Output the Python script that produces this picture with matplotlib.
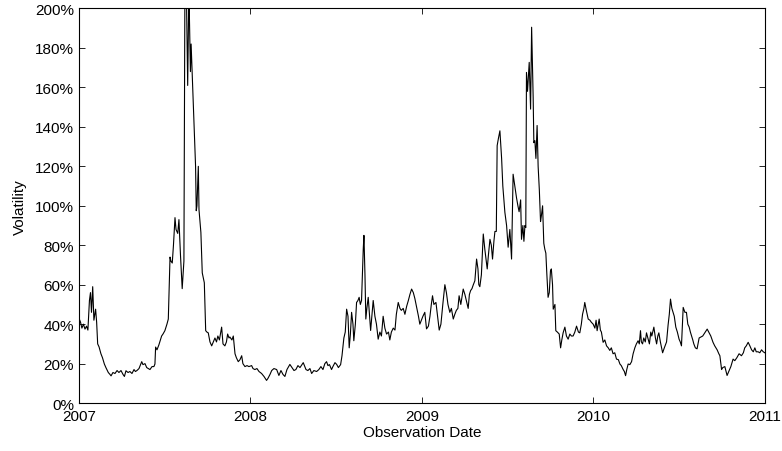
import numpy as np
import matplotlib
matplotlib.use("Agg")
import matplotlib.pyplot as plt
from matplotlib.ticker import FuncFormatter

# observation times, in years after 1 Jan 2007
years_since_2007 = [
    0.000, 0.009, 0.017, 0.026, 0.035, 0.044, 0.052, 0.061, 0.067, 0.073,
    0.080, 0.087, 0.097, 0.103, 0.109, 0.117, 0.128, 0.137, 0.148, 0.157,
    0.171, 0.181, 0.187, 0.198, 0.210, 0.222, 0.233, 0.245, 0.257, 0.265,
    0.274, 0.286, 0.297, 0.309, 0.321, 0.329, 0.338, 0.350, 0.366, 0.373,
    0.385, 0.395, 0.405, 0.414, 0.426, 0.437, 0.443, 0.447, 0.455, 0.466,
    0.475, 0.482, 0.490, 0.501, 0.513, 0.521, 0.531, 0.536, 0.544, 0.551,
    0.560, 0.566, 0.576, 0.583, 0.592, 0.602, 0.612, 0.618, 0.627, 0.634,
    0.641, 0.650, 0.654, 0.666, 0.680, 0.684, 0.688, 0.696, 0.700, 0.711,
    0.719, 0.731, 0.739, 0.746, 0.754, 0.764, 0.774, 0.781, 0.793, 0.802,
    0.810, 0.819, 0.832, 0.840, 0.851, 0.860, 0.867, 0.875, 0.880, 0.892,
    0.900, 0.910, 0.918, 0.929, 0.939, 0.949, 0.956, 0.968, 0.980, 0.991,
    1.007, 1.015, 1.026, 1.038, 1.050, 1.065, 1.079, 1.094, 1.102, 1.114,
    1.124, 1.137, 1.153, 1.166, 1.178, 1.190, 1.201, 1.213, 1.230, 1.242,
    1.254, 1.265, 1.277, 1.289, 1.308, 1.324, 1.335, 1.347, 1.357, 1.370,
    1.386, 1.399, 1.411, 1.423, 1.434, 1.444, 1.452, 1.461, 1.473, 1.481,
    1.493, 1.503, 1.513, 1.526, 1.534, 1.545, 1.553, 1.561, 1.569, 1.576,
    1.583, 1.590, 1.598, 1.603, 1.612, 1.619, 1.627, 1.634, 1.641, 1.648,
    1.658, 1.662, 1.668, 1.673, 1.679, 1.687, 1.694, 1.701, 1.708, 1.716,
    1.726, 1.735, 1.745, 1.755, 1.764, 1.774, 1.784, 1.794, 1.805, 1.813,
    1.822, 1.833, 1.843, 1.851, 1.862, 1.872, 1.880, 1.891, 1.901, 1.911,
    1.921, 1.930, 1.940, 1.950, 1.959, 1.971, 1.980, 1.988, 1.997, 2.006,
    2.017, 2.027, 2.038, 2.047, 2.055, 2.062, 2.070, 2.082, 2.090, 2.101,
    2.111, 2.122, 2.134, 2.143, 2.152, 2.163, 2.172, 2.183, 2.192, 2.201,
    2.210, 2.217, 2.227, 2.241, 2.251, 2.259, 2.270, 2.277, 2.284, 2.292,
    2.300, 2.309, 2.319, 2.327, 2.332, 2.338, 2.347, 2.358, 2.367, 2.381,
    2.388, 2.397, 2.405, 2.412, 2.420, 2.426, 2.434, 2.439, 2.446, 2.455,
    2.465, 2.472, 2.484, 2.494, 2.503, 2.513, 2.523, 2.532, 2.542, 2.552,
    2.560, 2.567, 2.576, 2.581, 2.589, 2.595, 2.601, 2.606, 2.610, 2.616,
    2.621, 2.626, 2.634, 2.640, 2.649, 2.653, 2.659, 2.665, 2.672, 2.678,
    2.685, 2.692, 2.697, 2.704, 2.711, 2.717, 2.723, 2.729, 2.736, 2.743,
    2.750, 2.755, 2.762, 2.766, 2.776, 2.781, 2.790, 2.801, 2.809, 2.816,
    2.824, 2.834, 2.843, 2.853, 2.863, 2.872, 2.882, 2.892, 2.902, 2.913,
    2.921, 2.930, 2.937, 2.945, 2.950, 2.959, 2.970, 2.980, 2.988, 2.999,
    3.009, 3.016, 3.022, 3.029, 3.034, 3.041, 3.047, 3.057, 3.067, 3.077,
    3.087, 3.096, 3.105, 3.115, 3.125, 3.135, 3.146, 3.155, 3.163, 3.174,
    3.181, 3.188, 3.195, 3.203, 3.213, 3.223, 3.232, 3.242, 3.251, 3.261,
    3.268, 3.275, 3.280, 3.287, 3.294, 3.303, 3.310, 3.318, 3.327, 3.335,
    3.341, 3.353, 3.362, 3.369, 3.376, 3.382, 3.391, 3.404, 3.414, 3.427,
    3.436, 3.443, 3.450, 3.458, 3.465, 3.472, 3.481, 3.490, 3.500, 3.507,
    3.514, 3.524, 3.534, 3.543, 3.551, 3.559, 3.566, 3.573, 3.580, 3.586,
    3.595, 3.605, 3.617, 3.627, 3.638, 3.650, 3.664, 3.673, 3.685, 3.698,
    3.708, 3.722, 3.732, 3.738, 3.748, 3.755, 3.767, 3.780, 3.790, 3.802,
    3.815, 3.825, 3.837, 3.850, 3.864, 3.875, 3.883, 3.892, 3.903, 3.913,
    3.923, 3.933, 3.942, 3.950, 3.961, 3.971, 3.981, 3.991, 4.000,
]

# volatility in percent
volatility = [
    43, 41, 38, 40, 37.5, 39, 37, 52, 56, 46,
    59, 42, 47.6, 41, 30, 28.5, 25, 23, 19.8, 18,
    15.5, 14.5, 13.8, 15.5, 15, 16.5, 15.5, 16.5, 14.5, 13.5,
    16.4, 15.5, 16, 15, 17, 16, 16.5, 17.5, 21, 19.5,
    20, 18, 17.5, 17, 18.5, 18.5, 19.8, 28.4, 27, 29.5,
    32, 34, 35, 36.7, 40, 42.6, 74, 72, 71, 80,
    94, 88, 86, 93, 75, 58, 72, 215, 205, 161,
    210, 168, 182, 154, 120, 97.5, 100, 120, 98, 86.5,
    66, 61, 36.7, 36, 35.6, 31, 29, 30.5, 33, 31,
    34, 32, 38.5, 30, 29, 31, 35, 33, 33.5, 32,
    34, 25, 23, 21, 22, 24, 20, 18.5, 19, 18.5,
    19, 17.5, 17, 17.5, 16, 15, 13.5, 11.5, 12.5, 14.5,
    16.5, 17.5, 17, 14, 16.5, 14.5, 13.5, 17, 19.6, 18,
    16.5, 17, 19, 18, 20.5, 17, 16.5, 17.5, 15, 16.5,
    16, 17, 18.5, 17, 20, 21, 19, 19.5, 17, 18.5,
    20.5, 19.6, 18, 19.5, 24, 33, 36, 47.6, 44, 28,
    35, 46, 40, 31.6, 40, 51, 52, 53.6, 50, 52,
    78, 85, 65, 42.6, 48, 53.6, 45, 36.8, 44, 52,
    44, 40, 32.4, 36, 34, 44, 38, 35, 36, 32,
    36, 38, 37, 45, 51, 48, 47, 48, 45, 49,
    52, 55, 57.8, 56, 53, 48, 44, 40, 42, 44,
    46, 37.6, 39, 44, 50, 54.4, 50, 51, 45, 37,
    40, 50, 60, 56, 50, 46, 48, 42.6, 45, 47,
    48, 54.4, 50, 57.8, 55, 52, 48, 55, 57, 58,
    60, 62, 73, 68, 60, 59, 65, 85.7, 78, 68,
    75, 83, 80, 73, 82, 87, 87, 130.5, 134, 138,
    124, 110, 96.7, 90, 79, 88, 73, 116, 110, 104,
    100, 97, 103, 83, 90, 82, 90, 89, 167.6, 158,
    165, 172.7, 149, 190.5, 155, 132, 133, 124, 140.7, 120,
    108, 92, 95, 100, 81, 78, 76, 65, 53.6, 56,
    67, 68, 60, 47.6, 50, 36.7, 36, 35, 28, 32,
    35.7, 38.5, 34, 32.4, 35, 34, 34, 36, 39, 36,
    35.6, 40, 45, 48, 51, 47, 42.6, 42, 41, 40,
    38, 42, 36.7, 40, 42.6, 37, 36, 30.8, 32, 29,
    28, 26.7, 28, 25, 25.5, 22.3, 22, 19.8, 19, 17,
    16, 13.9, 17, 19.8, 19.5, 21, 25, 28, 30, 31.6,
    30, 36.7, 31, 30, 33, 31, 35.6, 33, 30, 36,
    34, 38.5, 33, 30, 34, 35.6, 31, 25.5, 28, 31,
    39.6, 45, 52.7, 48, 46, 44, 38.5, 36, 32.4, 31,
    29, 48.5, 46, 46, 40, 38.5, 36, 34, 32, 30,
    28, 27.5, 33, 33.5, 34, 35.6, 37.5, 36, 34, 30.8,
    29, 27, 25, 24, 17, 18, 18.5, 14, 16, 18.5,
    22.3, 21.5, 23, 25, 24, 25.5, 28, 29, 30.8, 29,
    27, 26, 28, 26, 26, 25.5, 27, 26, 25.5,
]

year_ticks = [2007, 2008, 2009, 2010, 2011]
vol_ticks = [0, 20, 40, 60, 80, 100, 120, 140, 160, 180, 200]

plt.rcParams["font.family"] = ["Liberation Sans", "DejaVu Sans"]
plt.rcParams["font.size"] = 11

obs_year = 2007 + np.array(years_since_2007)
vol = np.array(volatility)

fig = plt.figure(figsize=(7.82, 4.52), dpi=100)
ax = fig.add_axes([0.101, 0.106, 0.877, 0.873])

ax.plot(obs_year, vol, color="black", linewidth=0.8)

ax.set_xlim(2007, 2011)
ax.set_ylim(0, 200)
ax.set_xticks(year_ticks)
ax.set_yticks(vol_ticks)
ax.yaxis.set_major_formatter(FuncFormatter(lambda v, p: "%d%%" % v))
ax.tick_params(direction="in", length=4, width=0.6, top=True, right=True,
               labelsize=11, colors="black")
ax.tick_params(axis="x", pad=4.5)
ax.tick_params(axis="y", pad=3.5)
for spine in ax.spines.values():
    spine.set_linewidth(0.8)

ax.set_xlabel("Observation Date", fontsize=11, labelpad=1.5)
ax.set_ylabel("Volatility", fontsize=11, labelpad=6)

fig.savefig("out.png", dpi=100)
